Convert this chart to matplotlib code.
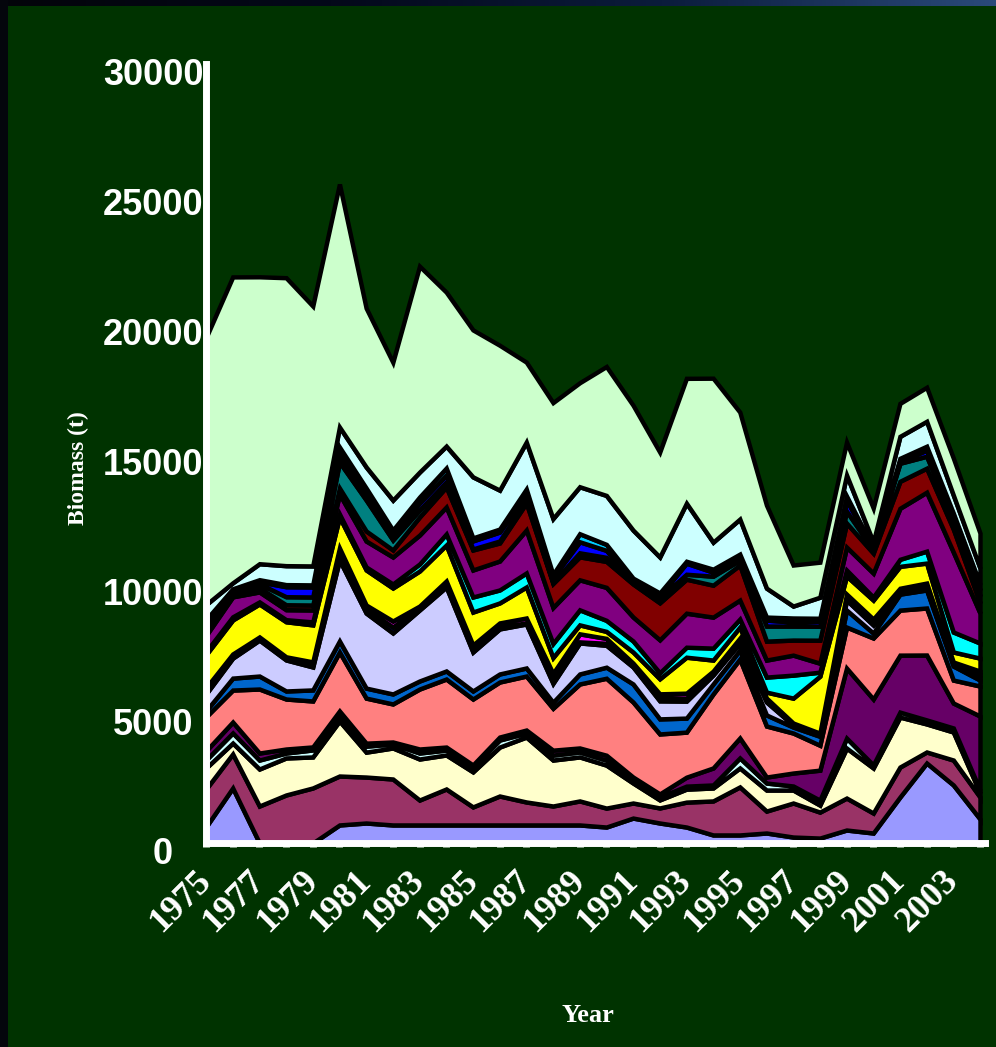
import matplotlib
matplotlib.use("Agg")
import numpy as np
import matplotlib.pyplot as plt
import matplotlib.transforms as mtransforms
from matplotlib.patches import Rectangle
from matplotlib.colors import LinearSegmentedColormap

# ---- data: biomass (t) by group, stacked bottom to top ----
years = list(range(1975, 2005))

periwinkle = [620, 2120, 0, 0, 0, 695, 770, 695, 695, 695, 695, 695, 695, 695, 695,
              615, 960, 770, 615, 310, 310, 385, 230, 190, 500, 385, 1770, 3080, 2235, 925]
plum = [1460, 1310, 1425, 1850, 2120, 1885, 1770, 1770, 960, 1385, 695, 1115, 885, 730, 925,
        730, 580, 580, 960, 1310, 1850, 845, 1310, 1000, 1230, 770, 1155, 425, 960, 845]
cream = [810, 420, 1425, 1425, 1195, 2120, 960, 1195, 1580, 1310, 1350, 1885, 2500, 1770, 1695,
         1655, 770, 310, 500, 500, 730, 810, 500, 270, 1925, 1735, 1925, 1080, 1080, 155]
pale_cyan = [310, 390, 345, 190, 270, 230, 230, 155, 230, 190, 190, 270, 155, 190, 190,
             190, 155, 115, 115, 115, 385, 270, 155, 190, 385, 115, 190, 155, 155, 115]
dark_purple = [350, 420, 270, 155, 115, 155, 115, 75, 155, 115, 75, 115, 115, 190, 155,
               190, 75, 115, 345, 655, 770, 230, 500, 1155, 2695, 2540, 2195, 2500, 960, 2850]
salmon = [1310, 1230, 2465, 1925, 1770, 2270, 1735, 1465, 2310, 2620, 2540, 2120, 2080, 1615, 2465,
          2965, 2890, 2310, 1735, 2850, 3040, 1965, 1540, 960, 1580, 2350, 1735, 1810, 885, 1155]
ocean = [230, 460, 500, 310, 425, 425, 385, 385, 310, 310, 310, 310, 310, 230, 385,
         425, 695, 580, 540, 385, 345, 425, 230, 345, 655, 190, 615, 695, 540, 230]
lavender = [650, 770, 1385, 1195, 885, 3120, 2890, 2350, 2735, 3235, 1500, 1735, 1695, 730, 1195,
            845, 655, 695, 655, 345, 270, 500, 75, 40, 385, 310, 75, 75, 75, 115]
navy = [120, 80, 80, 80, 115, 230, 155, 230, 75, 115, 115, 75, 40, 190, 40,
        75, 75, 115, 115, 75, 75, 75, 40, 40, 115, 115, 75, 115, 40, 115]
magenta = [120, 80, 40, 40, 80, 230, 155, 230, 75, 115, 155, 155, 190, 190, 310,
           190, 75, 155, 190, 75, 115, 75, 40, 40, 115, 115, 75, 75, 40, 115]
yellow = [1270, 1310, 1270, 1350, 1425, 1195, 1350, 1270, 1350, 1385, 1270, 770, 1195, 615, 345,
          270, 425, 580, 1385, 425, 425, 230, 960, 2195, 695, 730, 845, 770, 385, 500]
cyan = [120, 120, 80, 80, 115, 115, 115, 155, 270, 425, 580, 500, 540, 540, 580,
        425, 425, 230, 385, 460, 310, 580, 885, 155, 230, 115, 270, 460, 770, 580]
purple = [620, 770, 385, 385, 460, 770, 1000, 1040, 1115, 1040, 1040, 1115, 1655, 1385, 1155,
          1270, 925, 1270, 1310, 1195, 730, 655, 770, 345, 885, 925, 1965, 2270, 3080, 1155]
maroon = [150, 150, 155, 190, 190, 230, 385, 270, 695, 770, 770, 695, 1040, 925, 885,
          1000, 1270, 1425, 1310, 1230, 1350, 730, 580, 885, 925, 770, 1040, 925, 885, 385]
teal = [190, 80, 155, 310, 310, 1000, 1195, 385, 270, 190, 40, 75, 115, 40, 155,
        155, 75, 190, 190, 345, 190, 580, 540, 540, 460, 115, 695, 460, 345, 270]
blue = [150, 40, 80, 385, 385, 270, 270, 190, 270, 270, 310, 345, 230, 190, 425,
        270, 75, 75, 425, 155, 115, 230, 155, 190, 425, 40, 75, 230, 155, 230]
sky = [120, 40, 80, 80, 80, 310, 190, 190, 230, 270, 115, 115, 190, 115, 310,
       230, 75, 115, 75, 115, 115, 115, 155, 115, 155, 40, 115, 155, 115, 230]
ice = [580, 230, 615, 730, 730, 770, 810, 1155, 960, 845, 2350, 1500, 1810, 2155, 1810,
       1885, 1850, 1385, 2235, 1040, 1350, 1115, 460, 810, 810, 230, 845, 960, 695, 615]
mint = [10280, 11780, 11050, 11090, 10010, 9360, 6120, 5310, 7930, 5930, 5660, 5580, 3080, 4465, 4005,
        4965, 4810, 4040, 4810, 6315, 4120, 3195, 1580, 1350, 1270, 1310, 1270, 1310, 1425, 1350]

series = [periwinkle, plum, cream, pale_cyan, dark_purple, salmon, ocean, lavender, navy,
          magenta, yellow, cyan, purple, maroon, teal, blue, sky, ice, mint]
colors = ["#9999FF", "#993366", "#FFFFCC", "#CCFFFF", "#660066", "#FF8080", "#0066CC",
          "#CCCCFF", "#000080", "#FF00FF", "#FFFF00", "#00FFFF", "#800080", "#800000",
          "#008080", "#0000FF", "#00CCFF", "#CCFFFF", "#CCFFCC"]

yticks = [0, 5000, 10000, 15000, 20000, 25000, 30000]
xlabels = list(range(1975, 2004, 2))

BG = "#003300"
W, H = 996, 1047
fig = plt.figure(figsize=(W / 100, H / 100), dpi=100, facecolor=BG)

# dark frame along the left and top edges
fig.patches.append(Rectangle((0, 0), 8 / W, 1, transform=fig.transFigure,
                             facecolor="#04060c", edgecolor="none", zorder=0))
band = fig.add_axes([0, 1 - 6 / H, 1, 6 / H])
grad = np.linspace(0, 1, 256)[None, :]
cm = LinearSegmentedColormap.from_list("edge", ["#03040a", "#04081a", "#0b1c3c", "#2a4a7a"])
band.imshow(grad, aspect="auto", cmap=cm, extent=[0, 1, 0, 1])
band.axis("off")

# plotting area in pixel terms
x0, x1, y0, y1 = 206, 985, 843, 64
ax = fig.add_axes([x0 / W, (H - y0) / H, (x1 - x0) / W, (y0 - y1) / H])
ax.set_facecolor("none")

polys = ax.stackplot(years, *series, colors=colors, edgecolor="black", linewidth=3.2)
for p in polys:
    p.set_joinstyle("miter")

ax.set_xlim(1975, 2004 + 5 / 26.66)
ax.set_ylim(0, 30000)

for s in ("top", "right"):
    ax.spines[s].set_visible(False)
for s in ("left", "bottom"):
    ax.spines[s].set_color("white")
    ax.spines[s].set_linewidth(5)

ax.set_xticks(years)
ax.tick_params(axis="x", direction="out", length=3, width=5, color="white",
               labelbottom=False)
ax.set_yticks(yticks)
ax.tick_params(axis="y", direction="inout", length=4, width=1.5, color=BG,
               labelleft=False)

# y tick labels
ytrans = mtransforms.blended_transform_factory(fig.transFigure, ax.transData) + \
    mtransforms.ScaledTranslation(0, -12 / 100, fig.dpi_scale_trans)
for v in yticks:
    xc = 163 if v == 0 else 153
    ax.text(xc / W, v, f"{v}", transform=ytrans, ha="center", va="center",
            color="white", fontsize=26, fontweight="bold", family="Liberation Sans",
            clip_on=False)

# slanted year labels
xtrans = ax.get_xaxis_transform() + \
    mtransforms.ScaledTranslation(0, -33 / 100, fig.dpi_scale_trans)
for yr in xlabels:
    ax.text(yr, 0, str(yr), transform=xtrans, rotation=45, rotation_mode="anchor",
            ha="right", va="center", color="white", fontsize=26, fontweight="bold",
            family="Liberation Serif", clip_on=False)

fig.text(588 / W, 1 - 1015 / H, "Year", ha="center", va="center", color="white",
         fontsize=19, fontweight="bold", family="Liberation Serif")
fig.text(78 / W, 1 - 468 / H, "Biomass (t)", ha="center", va="center", rotation=90,
         color="white", fontsize=17, fontweight="bold", family="Liberation Serif")

fig.savefig("out.png", dpi=100, facecolor=BG)
